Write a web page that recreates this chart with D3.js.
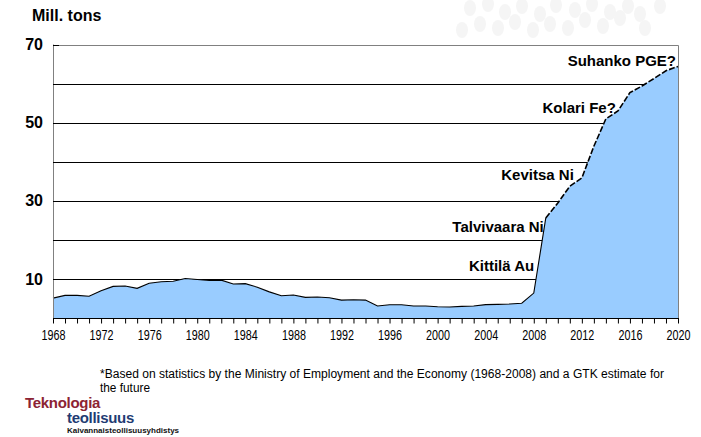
<!DOCTYPE html>
<html><head><meta charset="utf-8">
<script src="https://cdn.jsdelivr.net/npm/d3@7"></script>
<style>body{margin:0;background:#fff}svg{display:block}</style>
</head><body>
<script>
const years = d3.range(1968, 2021);
const values = [5.2,5.9,5.9,5.7,7.1,8.2,8.3,7.7,9.0,9.4,9.5,10.2,9.95,9.7,9.8,8.8,8.9,8.0,6.8,5.8,6.0,5.4,5.5,5.3,4.7,4.8,4.7,3.2,3.5,3.5,3.2,3.2,3.0,2.95,3.1,3.2,3.55,3.6,3.7,3.9,6.5,25.7,29.5,33.8,35.9,44.0,51.0,53.0,57.7,59.4,61.3,63.3,64.4];
const yTickLabels = [10,30,50,70];
const gridValues = [10,20,30,40,50,60];
const xTickLabels = d3.range(1968, 2021, 4);
const projectLabels = [
  {text:"Suhanko PGE?", year:2020, v:65.6},
  {text:"Kolari Fe?", year:2015, v:53.6},
  {text:"Kevitsa Ni", year:2011.5, v:36.4},
  {text:"Talvivaara Ni", year:2009, v:23.2},
  {text:"Kittilä Au", year:2008.2, v:13.2}
];
const data = years.map((y,i)=>({year:y, v:values[i]}));

const W=701,H=437;
const svg=d3.select("body").append("svg").attr("width",W).attr("height",H);
const x=d3.scaleLinear().domain([1968,2020]).range([53,678]);
const y=d3.scaleLinear().domain([0,70]).range([318.5,44.5]);

// watermark dots
const dots=[[470,8],[488,4],[505,12],[522,6],[540,14],[556,5],[575,10],[592,4],[610,12],[628,6],[480,24],[498,28],[515,22],[533,30],[550,24],[568,28],[585,20],[603,26],[620,18],[640,14],[462,30],[660,6],[645,28]];
svg.append("g").selectAll("ellipse").data(dots).join("ellipse")
  .attr("cx",d=>d[0]).attr("cy",d=>d[1]).attr("rx",6).attr("ry",8).attr("fill","#f5f5f5");

// grid
svg.append("g").selectAll("line").data(gridValues).join("line")
  .attr("x1",53).attr("x2",678).attr("y1",d=>Math.round(y(d))+0.5).attr("y2",d=>Math.round(y(d))+0.5)
  .attr("stroke","#000").attr("stroke-width",1);
// frame top/right
svg.append("path").attr("d",`M53,${Math.round(y(70))+0.5}H678.5V318`).attr("fill","none").attr("stroke","#808080");

// area
const area=d3.area().x(d=>x(d.year)).y0(y(0)).y1(d=>y(d.v));
svg.append("path").datum(data).attr("d",area).attr("fill","#99ccff");
const line=d3.line().x(d=>x(d.year)).y(d=>y(d.v));
svg.append("path").datum(data.filter(d=>d.year<=2009)).attr("d",line).attr("fill","none").attr("stroke","#000").attr("stroke-width",1.1);
svg.append("path").datum(data.filter(d=>d.year>=2009)).attr("d",line).attr("fill","none").attr("stroke","#000").attr("stroke-width",1.6).attr("stroke-dasharray","6,2");

// left axis
svg.append("line").attr("x1",53.5).attr("x2",53.5).attr("y1",y(70)).attr("y2",323).attr("stroke","#808080");
svg.append("g").selectAll("line").data(gridValues.concat([70])).join("line")
  .attr("x1",53).attr("x2",59).attr("y1",d=>Math.round(y(d))+0.5).attr("y2",d=>Math.round(y(d))+0.5).attr("stroke","#000");
svg.append("g").selectAll("text").data(yTickLabels).join("text")
  .attr("x",43).attr("y",d=>y(d)+1).attr("text-anchor","end").attr("dominant-baseline","middle")
  .attr("font-family","Liberation Sans, Arial, sans-serif").attr("font-weight","bold").attr("font-size",16).text(d=>d);

// bottom axis
const xAxis=d3.axisBottom(x).tickValues(years).tickSize(5).tickFormat(d=>xTickLabels.includes(d)?d:"");
const gx=svg.append("g").attr("transform","translate(0,318.5)").call(xAxis);
gx.select(".domain").attr("stroke","#000").attr("d","M53,0H679");
gx.selectAll(".tick line").attr("stroke","#000");
gx.selectAll(".tick text").attr("font-family","Liberation Sans, Arial, sans-serif").attr("font-size",14).attr("fill","#000").attr("dy","0.95em")
  .filter(d=>xTickLabels.includes(d)).attr("textLength",24).attr("lengthAdjust","spacingAndGlyphs");

// title
svg.append("text").attr("x",32).attr("y",21).attr("font-family","Liberation Sans, Arial, sans-serif").attr("font-weight","bold").attr("font-size",16).text("Mill. tons");

// project labels
svg.append("g").selectAll("text").data(projectLabels).join("text")
  .attr("x",d=>x(d.year)-2).attr("y",d=>y(d.v)).attr("text-anchor","end").attr("dominant-baseline","middle")
  .attr("font-family","Liberation Sans, Arial, sans-serif").attr("font-weight","bold").attr("font-size",15).text(d=>d.text);

// footnote
const fn=svg.append("text").attr("font-family","Liberation Sans, Arial, sans-serif").attr("font-size",12.5);
fn.append("tspan").attr("x",100).attr("y",378).attr("textLength",564).attr("lengthAdjust","spacingAndGlyphs").text("*Based on statistics by the Ministry of Employment and the Economy (1968-2008) and a GTK estimate for");
fn.append("tspan").attr("x",100).attr("y",392).attr("textLength",50).attr("lengthAdjust","spacingAndGlyphs").text("the future");

// logo
svg.append("text").attr("x",25).attr("y",408).attr("font-family","Liberation Sans, Arial, sans-serif").attr("font-weight","bold").attr("font-size",15).attr("fill","#8c2333").attr("letter-spacing","-0.3").text("Teknologia");
svg.append("text").attr("x",67).attr("y",423).attr("font-family","Liberation Sans, Arial, sans-serif").attr("font-weight","bold").attr("font-size",15).attr("fill","#1f3c73").attr("letter-spacing","-0.3").text("teollisuus");
svg.append("text").attr("x",67).attr("y",433).attr("font-family","Liberation Sans, Arial, sans-serif").attr("font-weight","bold").attr("font-size",8).attr("fill","#111").text("Kaivannaisteollisuusyhdistys");
</script>
</body></html>
